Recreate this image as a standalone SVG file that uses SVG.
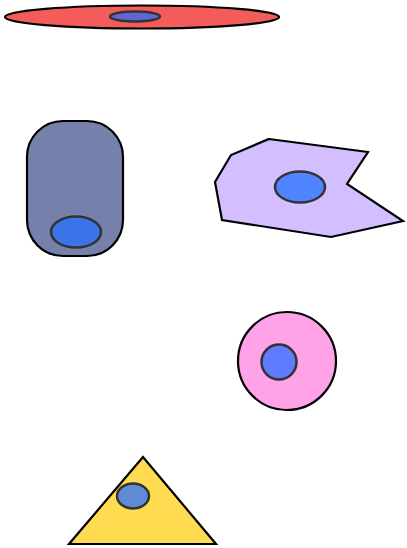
<svg xmlns="http://www.w3.org/2000/svg" width="407" height="548" viewBox="0 0 407 548">
<style>
.cell{stroke:#000;stroke-width:2.2}
.nuc{stroke:#333;stroke-width:2.5}
</style>
<rect width="407" height="548" fill="#fff"/>
<g id="cell1">
<ellipse class="cell" cx="142" cy="17" rx="137" ry="11.5" fill="#f45c5c"/>
<ellipse class="nuc" cx="135" cy="16.5" rx="25" ry="5" fill="#5e66d4"/>
</g>
<g id="cell2">
<rect class="cell" x="27" y="121" width="96" height="135" rx="36" ry="36" fill="#7580ab"/>
<ellipse class="nuc" cx="76" cy="232" rx="25" ry="15.5" fill="#3b73e8"/>
</g>
<g id="cell3">
<polygon class="cell" points="269,139 368,152 347,184 403,221 331,237 222,220 215,182 231,155" fill="#d3bfff"/>
<ellipse class="nuc" cx="300" cy="187" rx="25" ry="15.5" fill="#5085ff"/>
</g>
<g id="cell4">
<circle class="cell" cx="287" cy="361" r="49" fill="#ffa2e8"/>
<circle class="nuc" cx="279" cy="362" r="17.5" fill="#5f7bff"/>
</g>
<g id="cell5">
<polygon class="cell" points="143,457 216,544 69,544" fill="#ffdb52"/>
<ellipse class="nuc" cx="133" cy="496" rx="16" ry="12.5" fill="#5f8ad6"/>
</g>
<g id="connectors"/>
</svg>
